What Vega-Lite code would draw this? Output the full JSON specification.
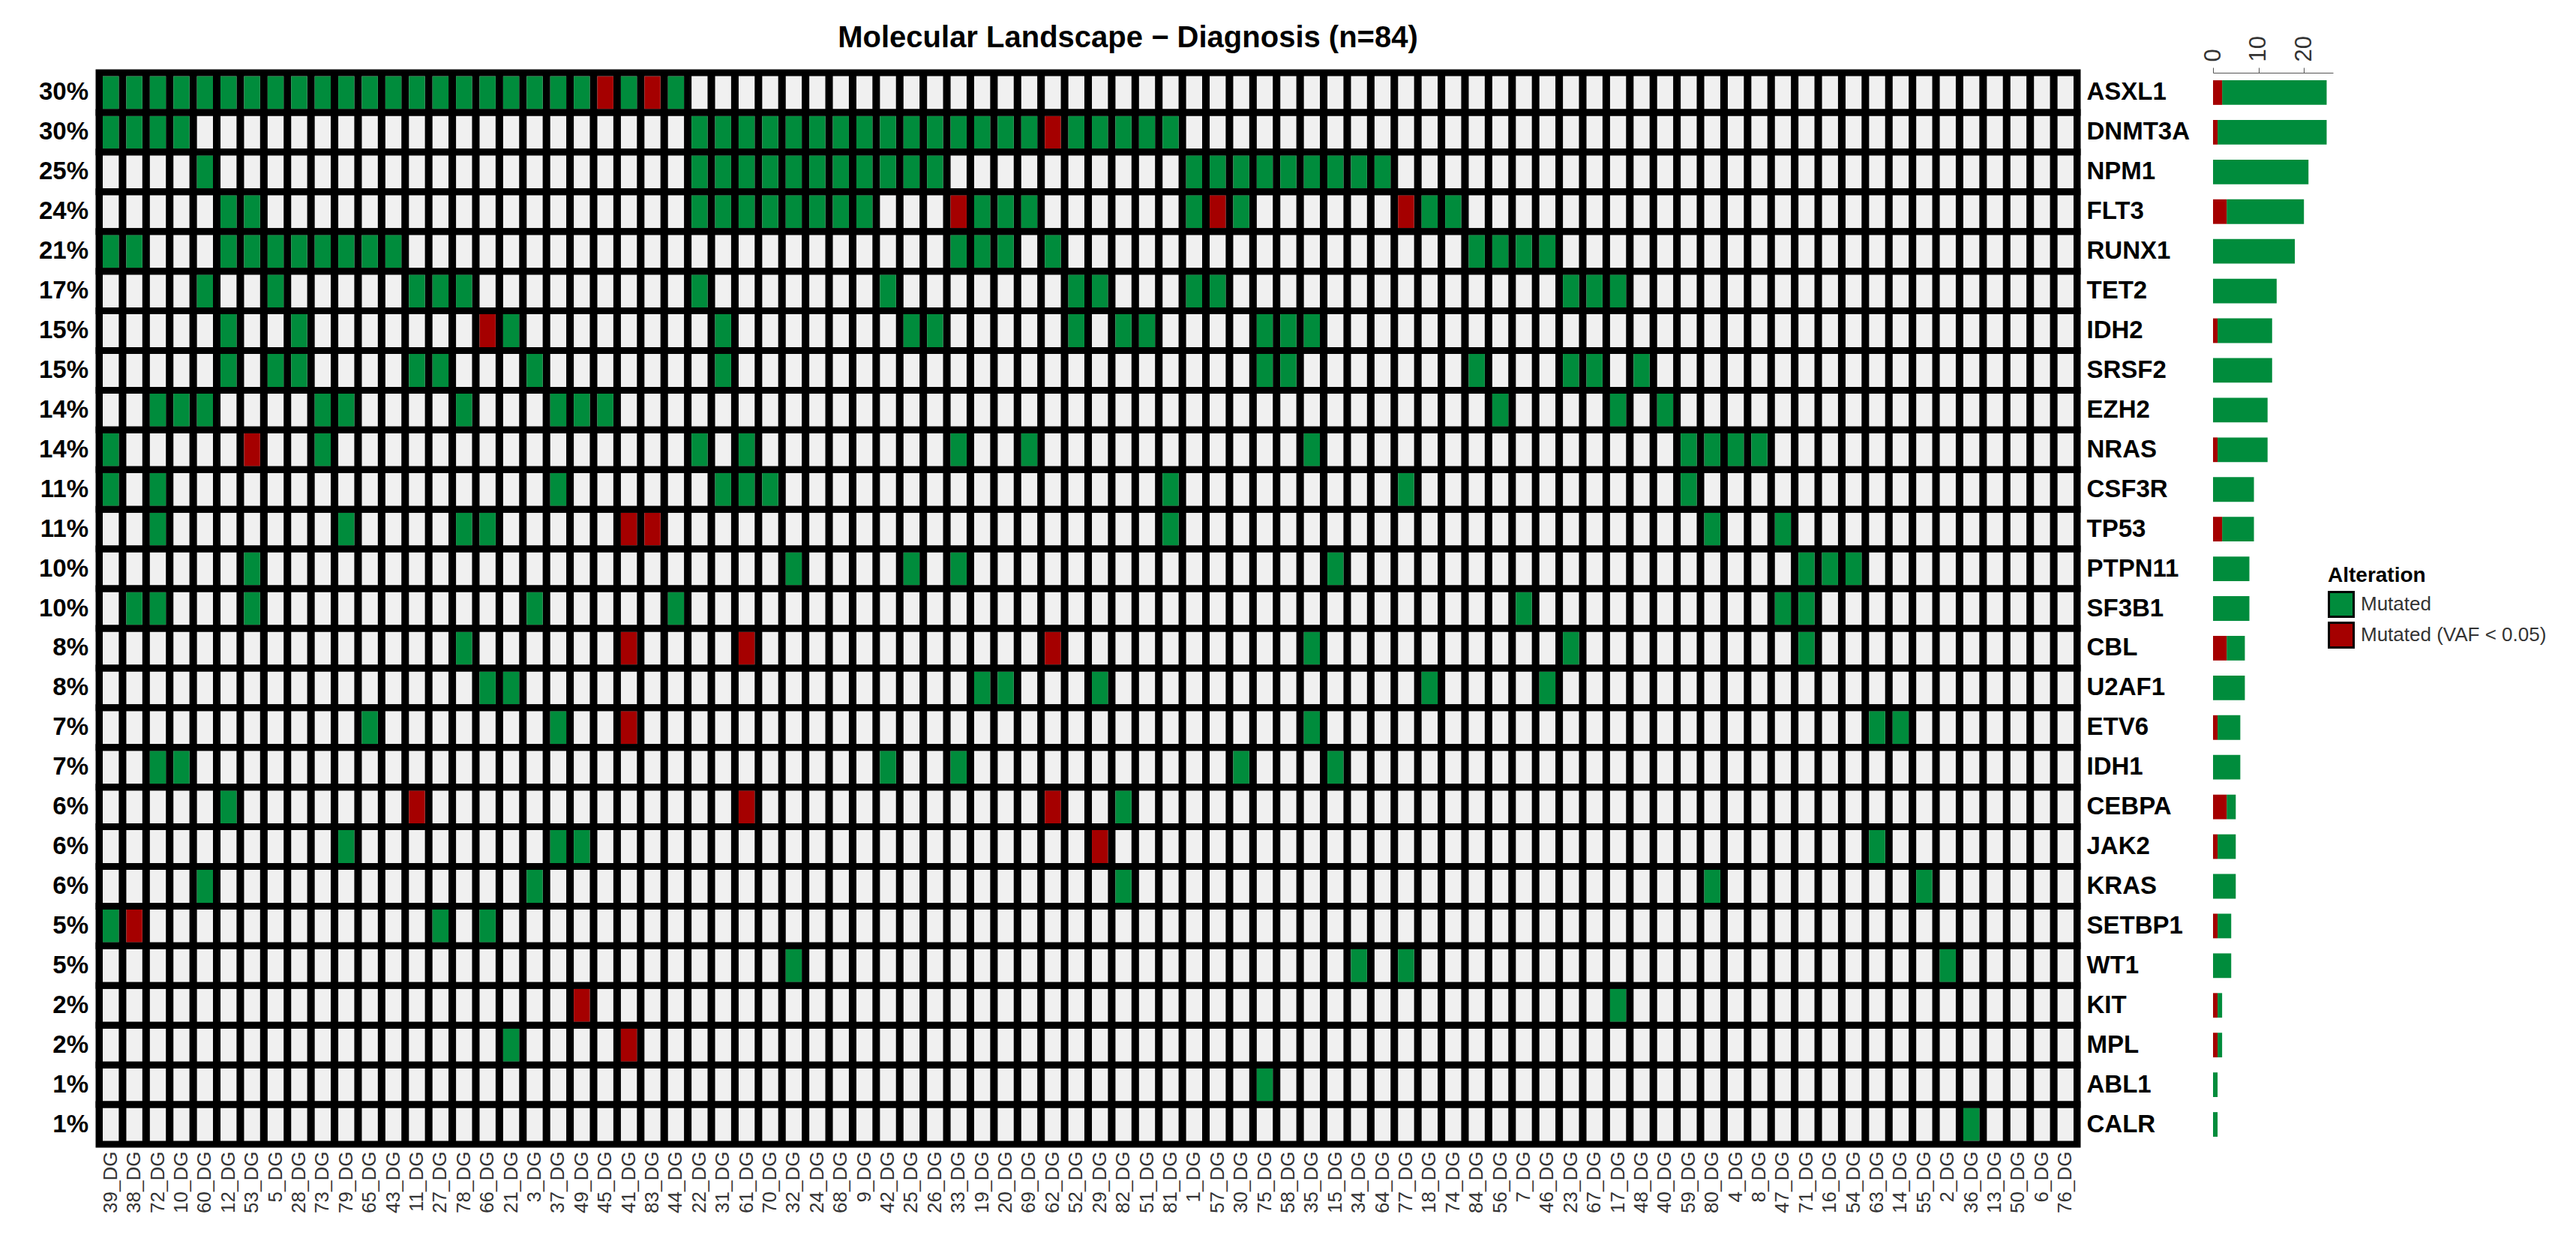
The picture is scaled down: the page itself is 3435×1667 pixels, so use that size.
{
  "$schema": "https://vega.github.io/schema/vega-lite/v6.json",
  "padding": {"left": 38, "top": 30, "right": 5, "bottom": 5},
  "background": "white",
  "config": {"font": "Liberation Sans", "view": {"stroke": null}},
  "spacing": 9,
  "datasets": {
    "samples": [
      {"sample":"39_DG"},{"sample":"38_DG"},{"sample":"72_DG"},{"sample":"10_DG"},{"sample":"60_DG"},{"sample":"12_DG"},{"sample":"53_DG"},{"sample":"5_DG"},{"sample":"28_DG"},{"sample":"73_DG"},{"sample":"79_DG"},{"sample":"65_DG"},{"sample":"43_DG"},{"sample":"11_DG"},{"sample":"27_DG"},{"sample":"78_DG"},{"sample":"66_DG"},{"sample":"21_DG"},{"sample":"3_DG"},{"sample":"37_DG"},{"sample":"49_DG"},{"sample":"45_DG"},{"sample":"41_DG"},{"sample":"83_DG"},{"sample":"44_DG"},{"sample":"22_DG"},{"sample":"31_DG"},{"sample":"61_DG"},{"sample":"70_DG"},{"sample":"32_DG"},{"sample":"24_DG"},{"sample":"68_DG"},{"sample":"9_DG"},{"sample":"42_DG"},{"sample":"25_DG"},{"sample":"26_DG"},{"sample":"33_DG"},{"sample":"19_DG"},{"sample":"20_DG"},{"sample":"69_DG"},{"sample":"62_DG"},{"sample":"52_DG"},{"sample":"29_DG"},{"sample":"82_DG"},{"sample":"51_DG"},{"sample":"81_DG"},{"sample":"1_DG"},{"sample":"57_DG"},{"sample":"30_DG"},{"sample":"75_DG"},{"sample":"58_DG"},{"sample":"35_DG"},{"sample":"15_DG"},{"sample":"34_DG"},{"sample":"64_DG"},{"sample":"77_DG"},{"sample":"18_DG"},{"sample":"74_DG"},{"sample":"84_DG"},{"sample":"56_DG"},{"sample":"7_DG"},{"sample":"46_DG"},{"sample":"23_DG"},{"sample":"67_DG"},{"sample":"17_DG"},{"sample":"48_DG"},{"sample":"40_DG"},{"sample":"59_DG"},{"sample":"80_DG"},{"sample":"4_DG"},{"sample":"8_DG"},{"sample":"47_DG"},{"sample":"71_DG"},{"sample":"16_DG"},{"sample":"54_DG"},{"sample":"63_DG"},{"sample":"14_DG"},{"sample":"55_DG"},{"sample":"2_DG"},{"sample":"36_DG"},{"sample":"13_DG"},{"sample":"50_DG"},{"sample":"6_DG"},{"sample":"76_DG"}
    ],
    "genes": [
      {"gene":"ASXL1","pct":"30%"},{"gene":"DNMT3A","pct":"30%"},{"gene":"NPM1","pct":"25%"},{"gene":"FLT3","pct":"24%"},{"gene":"RUNX1","pct":"21%"},{"gene":"TET2","pct":"17%"},{"gene":"IDH2","pct":"15%"},{"gene":"SRSF2","pct":"15%"},{"gene":"EZH2","pct":"14%"},{"gene":"NRAS","pct":"14%"},{"gene":"CSF3R","pct":"11%"},{"gene":"TP53","pct":"11%"},{"gene":"PTPN11","pct":"10%"},{"gene":"SF3B1","pct":"10%"},{"gene":"CBL","pct":"8%"},{"gene":"U2AF1","pct":"8%"},{"gene":"ETV6","pct":"7%"},{"gene":"IDH1","pct":"7%"},{"gene":"CEBPA","pct":"6%"},{"gene":"JAK2","pct":"6%"},{"gene":"KRAS","pct":"6%"},{"gene":"SETBP1","pct":"5%"},{"gene":"WT1","pct":"5%"},{"gene":"KIT","pct":"2%"},{"gene":"MPL","pct":"2%"},{"gene":"ABL1","pct":"1%"},{"gene":"CALR","pct":"1%"}
    ],
    "muts": [
      {"sample":"39_DG","gene":"ASXL1","alt":"Mutated"},{"sample":"38_DG","gene":"ASXL1","alt":"Mutated"},{"sample":"72_DG","gene":"ASXL1","alt":"Mutated"},{"sample":"10_DG","gene":"ASXL1","alt":"Mutated"},{"sample":"60_DG","gene":"ASXL1","alt":"Mutated"},{"sample":"12_DG","gene":"ASXL1","alt":"Mutated"},{"sample":"53_DG","gene":"ASXL1","alt":"Mutated"},{"sample":"5_DG","gene":"ASXL1","alt":"Mutated"},{"sample":"28_DG","gene":"ASXL1","alt":"Mutated"},{"sample":"73_DG","gene":"ASXL1","alt":"Mutated"},{"sample":"79_DG","gene":"ASXL1","alt":"Mutated"},{"sample":"65_DG","gene":"ASXL1","alt":"Mutated"},{"sample":"43_DG","gene":"ASXL1","alt":"Mutated"},{"sample":"11_DG","gene":"ASXL1","alt":"Mutated"},{"sample":"27_DG","gene":"ASXL1","alt":"Mutated"},{"sample":"78_DG","gene":"ASXL1","alt":"Mutated"},{"sample":"66_DG","gene":"ASXL1","alt":"Mutated"},{"sample":"21_DG","gene":"ASXL1","alt":"Mutated"},{"sample":"3_DG","gene":"ASXL1","alt":"Mutated"},{"sample":"37_DG","gene":"ASXL1","alt":"Mutated"},{"sample":"49_DG","gene":"ASXL1","alt":"Mutated"},{"sample":"45_DG","gene":"ASXL1","alt":"Mutated (VAF < 0.05)"},{"sample":"41_DG","gene":"ASXL1","alt":"Mutated"},{"sample":"83_DG","gene":"ASXL1","alt":"Mutated (VAF < 0.05)"},{"sample":"44_DG","gene":"ASXL1","alt":"Mutated"},
      {"sample":"39_DG","gene":"DNMT3A","alt":"Mutated"},{"sample":"38_DG","gene":"DNMT3A","alt":"Mutated"},{"sample":"72_DG","gene":"DNMT3A","alt":"Mutated"},{"sample":"10_DG","gene":"DNMT3A","alt":"Mutated"},{"sample":"22_DG","gene":"DNMT3A","alt":"Mutated"},{"sample":"31_DG","gene":"DNMT3A","alt":"Mutated"},{"sample":"61_DG","gene":"DNMT3A","alt":"Mutated"},{"sample":"70_DG","gene":"DNMT3A","alt":"Mutated"},{"sample":"32_DG","gene":"DNMT3A","alt":"Mutated"},{"sample":"24_DG","gene":"DNMT3A","alt":"Mutated"},{"sample":"68_DG","gene":"DNMT3A","alt":"Mutated"},{"sample":"9_DG","gene":"DNMT3A","alt":"Mutated"},{"sample":"42_DG","gene":"DNMT3A","alt":"Mutated"},{"sample":"25_DG","gene":"DNMT3A","alt":"Mutated"},{"sample":"26_DG","gene":"DNMT3A","alt":"Mutated"},{"sample":"33_DG","gene":"DNMT3A","alt":"Mutated"},{"sample":"19_DG","gene":"DNMT3A","alt":"Mutated"},{"sample":"20_DG","gene":"DNMT3A","alt":"Mutated"},{"sample":"69_DG","gene":"DNMT3A","alt":"Mutated"},{"sample":"62_DG","gene":"DNMT3A","alt":"Mutated (VAF < 0.05)"},{"sample":"52_DG","gene":"DNMT3A","alt":"Mutated"},{"sample":"29_DG","gene":"DNMT3A","alt":"Mutated"},{"sample":"82_DG","gene":"DNMT3A","alt":"Mutated"},{"sample":"51_DG","gene":"DNMT3A","alt":"Mutated"},{"sample":"81_DG","gene":"DNMT3A","alt":"Mutated"},
      {"sample":"60_DG","gene":"NPM1","alt":"Mutated"},{"sample":"22_DG","gene":"NPM1","alt":"Mutated"},{"sample":"31_DG","gene":"NPM1","alt":"Mutated"},{"sample":"61_DG","gene":"NPM1","alt":"Mutated"},{"sample":"70_DG","gene":"NPM1","alt":"Mutated"},{"sample":"32_DG","gene":"NPM1","alt":"Mutated"},{"sample":"24_DG","gene":"NPM1","alt":"Mutated"},{"sample":"68_DG","gene":"NPM1","alt":"Mutated"},{"sample":"9_DG","gene":"NPM1","alt":"Mutated"},{"sample":"42_DG","gene":"NPM1","alt":"Mutated"},{"sample":"25_DG","gene":"NPM1","alt":"Mutated"},{"sample":"26_DG","gene":"NPM1","alt":"Mutated"},{"sample":"1_DG","gene":"NPM1","alt":"Mutated"},{"sample":"57_DG","gene":"NPM1","alt":"Mutated"},{"sample":"30_DG","gene":"NPM1","alt":"Mutated"},{"sample":"75_DG","gene":"NPM1","alt":"Mutated"},{"sample":"58_DG","gene":"NPM1","alt":"Mutated"},{"sample":"35_DG","gene":"NPM1","alt":"Mutated"},{"sample":"15_DG","gene":"NPM1","alt":"Mutated"},{"sample":"34_DG","gene":"NPM1","alt":"Mutated"},{"sample":"64_DG","gene":"NPM1","alt":"Mutated"},
      {"sample":"12_DG","gene":"FLT3","alt":"Mutated"},{"sample":"53_DG","gene":"FLT3","alt":"Mutated"},{"sample":"22_DG","gene":"FLT3","alt":"Mutated"},{"sample":"31_DG","gene":"FLT3","alt":"Mutated"},{"sample":"61_DG","gene":"FLT3","alt":"Mutated"},{"sample":"70_DG","gene":"FLT3","alt":"Mutated"},{"sample":"32_DG","gene":"FLT3","alt":"Mutated"},{"sample":"24_DG","gene":"FLT3","alt":"Mutated"},{"sample":"68_DG","gene":"FLT3","alt":"Mutated"},{"sample":"9_DG","gene":"FLT3","alt":"Mutated"},{"sample":"33_DG","gene":"FLT3","alt":"Mutated (VAF < 0.05)"},{"sample":"19_DG","gene":"FLT3","alt":"Mutated"},{"sample":"20_DG","gene":"FLT3","alt":"Mutated"},{"sample":"69_DG","gene":"FLT3","alt":"Mutated"},{"sample":"1_DG","gene":"FLT3","alt":"Mutated"},{"sample":"57_DG","gene":"FLT3","alt":"Mutated (VAF < 0.05)"},{"sample":"30_DG","gene":"FLT3","alt":"Mutated"},{"sample":"77_DG","gene":"FLT3","alt":"Mutated (VAF < 0.05)"},{"sample":"18_DG","gene":"FLT3","alt":"Mutated"},{"sample":"74_DG","gene":"FLT3","alt":"Mutated"},
      {"sample":"39_DG","gene":"RUNX1","alt":"Mutated"},{"sample":"38_DG","gene":"RUNX1","alt":"Mutated"},{"sample":"12_DG","gene":"RUNX1","alt":"Mutated"},{"sample":"53_DG","gene":"RUNX1","alt":"Mutated"},{"sample":"5_DG","gene":"RUNX1","alt":"Mutated"},{"sample":"28_DG","gene":"RUNX1","alt":"Mutated"},{"sample":"73_DG","gene":"RUNX1","alt":"Mutated"},{"sample":"79_DG","gene":"RUNX1","alt":"Mutated"},{"sample":"65_DG","gene":"RUNX1","alt":"Mutated"},{"sample":"43_DG","gene":"RUNX1","alt":"Mutated"},{"sample":"33_DG","gene":"RUNX1","alt":"Mutated"},{"sample":"19_DG","gene":"RUNX1","alt":"Mutated"},{"sample":"20_DG","gene":"RUNX1","alt":"Mutated"},{"sample":"62_DG","gene":"RUNX1","alt":"Mutated"},{"sample":"84_DG","gene":"RUNX1","alt":"Mutated"},{"sample":"56_DG","gene":"RUNX1","alt":"Mutated"},{"sample":"7_DG","gene":"RUNX1","alt":"Mutated"},{"sample":"46_DG","gene":"RUNX1","alt":"Mutated"},
      {"sample":"60_DG","gene":"TET2","alt":"Mutated"},{"sample":"5_DG","gene":"TET2","alt":"Mutated"},{"sample":"11_DG","gene":"TET2","alt":"Mutated"},{"sample":"27_DG","gene":"TET2","alt":"Mutated"},{"sample":"78_DG","gene":"TET2","alt":"Mutated"},{"sample":"22_DG","gene":"TET2","alt":"Mutated"},{"sample":"42_DG","gene":"TET2","alt":"Mutated"},{"sample":"52_DG","gene":"TET2","alt":"Mutated"},{"sample":"29_DG","gene":"TET2","alt":"Mutated"},{"sample":"1_DG","gene":"TET2","alt":"Mutated"},{"sample":"57_DG","gene":"TET2","alt":"Mutated"},{"sample":"23_DG","gene":"TET2","alt":"Mutated"},{"sample":"67_DG","gene":"TET2","alt":"Mutated"},{"sample":"17_DG","gene":"TET2","alt":"Mutated"},
      {"sample":"12_DG","gene":"IDH2","alt":"Mutated"},{"sample":"28_DG","gene":"IDH2","alt":"Mutated"},{"sample":"66_DG","gene":"IDH2","alt":"Mutated (VAF < 0.05)"},{"sample":"21_DG","gene":"IDH2","alt":"Mutated"},{"sample":"31_DG","gene":"IDH2","alt":"Mutated"},{"sample":"25_DG","gene":"IDH2","alt":"Mutated"},{"sample":"26_DG","gene":"IDH2","alt":"Mutated"},{"sample":"52_DG","gene":"IDH2","alt":"Mutated"},{"sample":"82_DG","gene":"IDH2","alt":"Mutated"},{"sample":"51_DG","gene":"IDH2","alt":"Mutated"},{"sample":"75_DG","gene":"IDH2","alt":"Mutated"},{"sample":"58_DG","gene":"IDH2","alt":"Mutated"},{"sample":"35_DG","gene":"IDH2","alt":"Mutated"},
      {"sample":"12_DG","gene":"SRSF2","alt":"Mutated"},{"sample":"5_DG","gene":"SRSF2","alt":"Mutated"},{"sample":"28_DG","gene":"SRSF2","alt":"Mutated"},{"sample":"11_DG","gene":"SRSF2","alt":"Mutated"},{"sample":"27_DG","gene":"SRSF2","alt":"Mutated"},{"sample":"3_DG","gene":"SRSF2","alt":"Mutated"},{"sample":"31_DG","gene":"SRSF2","alt":"Mutated"},{"sample":"75_DG","gene":"SRSF2","alt":"Mutated"},{"sample":"58_DG","gene":"SRSF2","alt":"Mutated"},{"sample":"84_DG","gene":"SRSF2","alt":"Mutated"},{"sample":"23_DG","gene":"SRSF2","alt":"Mutated"},{"sample":"67_DG","gene":"SRSF2","alt":"Mutated"},{"sample":"48_DG","gene":"SRSF2","alt":"Mutated"},
      {"sample":"72_DG","gene":"EZH2","alt":"Mutated"},{"sample":"10_DG","gene":"EZH2","alt":"Mutated"},{"sample":"60_DG","gene":"EZH2","alt":"Mutated"},{"sample":"73_DG","gene":"EZH2","alt":"Mutated"},{"sample":"79_DG","gene":"EZH2","alt":"Mutated"},{"sample":"78_DG","gene":"EZH2","alt":"Mutated"},{"sample":"37_DG","gene":"EZH2","alt":"Mutated"},{"sample":"49_DG","gene":"EZH2","alt":"Mutated"},{"sample":"45_DG","gene":"EZH2","alt":"Mutated"},{"sample":"56_DG","gene":"EZH2","alt":"Mutated"},{"sample":"17_DG","gene":"EZH2","alt":"Mutated"},{"sample":"40_DG","gene":"EZH2","alt":"Mutated"},
      {"sample":"39_DG","gene":"NRAS","alt":"Mutated"},{"sample":"53_DG","gene":"NRAS","alt":"Mutated (VAF < 0.05)"},{"sample":"73_DG","gene":"NRAS","alt":"Mutated"},{"sample":"22_DG","gene":"NRAS","alt":"Mutated"},{"sample":"61_DG","gene":"NRAS","alt":"Mutated"},{"sample":"33_DG","gene":"NRAS","alt":"Mutated"},{"sample":"69_DG","gene":"NRAS","alt":"Mutated"},{"sample":"35_DG","gene":"NRAS","alt":"Mutated"},{"sample":"59_DG","gene":"NRAS","alt":"Mutated"},{"sample":"80_DG","gene":"NRAS","alt":"Mutated"},{"sample":"4_DG","gene":"NRAS","alt":"Mutated"},{"sample":"8_DG","gene":"NRAS","alt":"Mutated"},
      {"sample":"39_DG","gene":"CSF3R","alt":"Mutated"},{"sample":"72_DG","gene":"CSF3R","alt":"Mutated"},{"sample":"37_DG","gene":"CSF3R","alt":"Mutated"},{"sample":"31_DG","gene":"CSF3R","alt":"Mutated"},{"sample":"61_DG","gene":"CSF3R","alt":"Mutated"},{"sample":"70_DG","gene":"CSF3R","alt":"Mutated"},{"sample":"81_DG","gene":"CSF3R","alt":"Mutated"},{"sample":"77_DG","gene":"CSF3R","alt":"Mutated"},{"sample":"59_DG","gene":"CSF3R","alt":"Mutated"},
      {"sample":"72_DG","gene":"TP53","alt":"Mutated"},{"sample":"79_DG","gene":"TP53","alt":"Mutated"},{"sample":"78_DG","gene":"TP53","alt":"Mutated"},{"sample":"66_DG","gene":"TP53","alt":"Mutated"},{"sample":"41_DG","gene":"TP53","alt":"Mutated (VAF < 0.05)"},{"sample":"83_DG","gene":"TP53","alt":"Mutated (VAF < 0.05)"},{"sample":"81_DG","gene":"TP53","alt":"Mutated"},{"sample":"80_DG","gene":"TP53","alt":"Mutated"},{"sample":"47_DG","gene":"TP53","alt":"Mutated"},
      {"sample":"53_DG","gene":"PTPN11","alt":"Mutated"},{"sample":"32_DG","gene":"PTPN11","alt":"Mutated"},{"sample":"25_DG","gene":"PTPN11","alt":"Mutated"},{"sample":"33_DG","gene":"PTPN11","alt":"Mutated"},{"sample":"15_DG","gene":"PTPN11","alt":"Mutated"},{"sample":"71_DG","gene":"PTPN11","alt":"Mutated"},{"sample":"16_DG","gene":"PTPN11","alt":"Mutated"},{"sample":"54_DG","gene":"PTPN11","alt":"Mutated"},
      {"sample":"38_DG","gene":"SF3B1","alt":"Mutated"},{"sample":"72_DG","gene":"SF3B1","alt":"Mutated"},{"sample":"53_DG","gene":"SF3B1","alt":"Mutated"},{"sample":"3_DG","gene":"SF3B1","alt":"Mutated"},{"sample":"44_DG","gene":"SF3B1","alt":"Mutated"},{"sample":"7_DG","gene":"SF3B1","alt":"Mutated"},{"sample":"47_DG","gene":"SF3B1","alt":"Mutated"},{"sample":"71_DG","gene":"SF3B1","alt":"Mutated"},
      {"sample":"78_DG","gene":"CBL","alt":"Mutated"},{"sample":"41_DG","gene":"CBL","alt":"Mutated (VAF < 0.05)"},{"sample":"61_DG","gene":"CBL","alt":"Mutated (VAF < 0.05)"},{"sample":"62_DG","gene":"CBL","alt":"Mutated (VAF < 0.05)"},{"sample":"35_DG","gene":"CBL","alt":"Mutated"},{"sample":"23_DG","gene":"CBL","alt":"Mutated"},{"sample":"71_DG","gene":"CBL","alt":"Mutated"},
      {"sample":"66_DG","gene":"U2AF1","alt":"Mutated"},{"sample":"21_DG","gene":"U2AF1","alt":"Mutated"},{"sample":"19_DG","gene":"U2AF1","alt":"Mutated"},{"sample":"20_DG","gene":"U2AF1","alt":"Mutated"},{"sample":"29_DG","gene":"U2AF1","alt":"Mutated"},{"sample":"18_DG","gene":"U2AF1","alt":"Mutated"},{"sample":"46_DG","gene":"U2AF1","alt":"Mutated"},
      {"sample":"65_DG","gene":"ETV6","alt":"Mutated"},{"sample":"37_DG","gene":"ETV6","alt":"Mutated"},{"sample":"41_DG","gene":"ETV6","alt":"Mutated (VAF < 0.05)"},{"sample":"35_DG","gene":"ETV6","alt":"Mutated"},{"sample":"63_DG","gene":"ETV6","alt":"Mutated"},{"sample":"14_DG","gene":"ETV6","alt":"Mutated"},
      {"sample":"72_DG","gene":"IDH1","alt":"Mutated"},{"sample":"10_DG","gene":"IDH1","alt":"Mutated"},{"sample":"42_DG","gene":"IDH1","alt":"Mutated"},{"sample":"33_DG","gene":"IDH1","alt":"Mutated"},{"sample":"30_DG","gene":"IDH1","alt":"Mutated"},{"sample":"15_DG","gene":"IDH1","alt":"Mutated"},
      {"sample":"12_DG","gene":"CEBPA","alt":"Mutated"},{"sample":"11_DG","gene":"CEBPA","alt":"Mutated (VAF < 0.05)"},{"sample":"61_DG","gene":"CEBPA","alt":"Mutated (VAF < 0.05)"},{"sample":"62_DG","gene":"CEBPA","alt":"Mutated (VAF < 0.05)"},{"sample":"82_DG","gene":"CEBPA","alt":"Mutated"},
      {"sample":"79_DG","gene":"JAK2","alt":"Mutated"},{"sample":"37_DG","gene":"JAK2","alt":"Mutated"},{"sample":"49_DG","gene":"JAK2","alt":"Mutated"},{"sample":"29_DG","gene":"JAK2","alt":"Mutated (VAF < 0.05)"},{"sample":"63_DG","gene":"JAK2","alt":"Mutated"},
      {"sample":"60_DG","gene":"KRAS","alt":"Mutated"},{"sample":"3_DG","gene":"KRAS","alt":"Mutated"},{"sample":"82_DG","gene":"KRAS","alt":"Mutated"},{"sample":"80_DG","gene":"KRAS","alt":"Mutated"},{"sample":"55_DG","gene":"KRAS","alt":"Mutated"},
      {"sample":"39_DG","gene":"SETBP1","alt":"Mutated"},{"sample":"38_DG","gene":"SETBP1","alt":"Mutated (VAF < 0.05)"},{"sample":"27_DG","gene":"SETBP1","alt":"Mutated"},{"sample":"66_DG","gene":"SETBP1","alt":"Mutated"},
      {"sample":"32_DG","gene":"WT1","alt":"Mutated"},{"sample":"34_DG","gene":"WT1","alt":"Mutated"},{"sample":"77_DG","gene":"WT1","alt":"Mutated"},{"sample":"2_DG","gene":"WT1","alt":"Mutated"},
      {"sample":"49_DG","gene":"KIT","alt":"Mutated (VAF < 0.05)"},{"sample":"17_DG","gene":"KIT","alt":"Mutated"},
      {"sample":"21_DG","gene":"MPL","alt":"Mutated"},{"sample":"41_DG","gene":"MPL","alt":"Mutated (VAF < 0.05)"},
      {"sample":"75_DG","gene":"ABL1","alt":"Mutated"},
      {"sample":"36_DG","gene":"CALR","alt":"Mutated"}
    ]
  },
  "hconcat": [
    {
      "width": 80,
      "height": 1429,
      "data": {"name": "genes"},
      "mark": {"type": "text", "x": "width", "align": "right", "baseline": "middle", "fontSize": 33, "fontWeight": "bold", "color": "black"},
      "encoding": {
        "y": {"field": "gene", "type": "nominal", "scale": {"domain": ["ASXL1","DNMT3A","NPM1","FLT3","RUNX1","TET2","IDH2","SRSF2","EZH2","NRAS","CSF3R","TP53","PTPN11","SF3B1","CBL","U2AF1","ETV6","IDH1","CEBPA","JAK2","KRAS","SETBP1","WT1","KIT","MPL","ABL1","CALR"], "paddingInner": 0.17, "paddingOuter": 0.085}, "axis": null},
        "text": {"field": "pct", "type": "nominal"}
      }
    },
    {
      "width": 2638,
      "height": 1429,
      "view": {"fill": "black", "stroke": null},
      "title": {"text": "Molecular Landscape − Diagnosis (n=84)", "fontSize": 40, "fontWeight": "bold", "color": "black", "anchor": "middle", "dx": 53, "offset": 22},
      "layer": [
        {
          "data": {"name": "samples"},
          "mark": {"type": "rect", "fill": "#F0F0F0"},
          "encoding": {
            "x": {"field": "sample", "type": "nominal", "scale": {"domain": ["39_DG","38_DG","72_DG","10_DG","60_DG","12_DG","53_DG","5_DG","28_DG","73_DG","79_DG","65_DG","43_DG","11_DG","27_DG","78_DG","66_DG","21_DG","3_DG","37_DG","49_DG","45_DG","41_DG","83_DG","44_DG","22_DG","31_DG","61_DG","70_DG","32_DG","24_DG","68_DG","9_DG","42_DG","25_DG","26_DG","33_DG","19_DG","20_DG","69_DG","62_DG","52_DG","29_DG","82_DG","51_DG","81_DG","1_DG","57_DG","30_DG","75_DG","58_DG","35_DG","15_DG","34_DG","64_DG","77_DG","18_DG","74_DG","84_DG","56_DG","7_DG","46_DG","23_DG","67_DG","17_DG","48_DG","40_DG","59_DG","80_DG","4_DG","8_DG","47_DG","71_DG","16_DG","54_DG","63_DG","14_DG","55_DG","2_DG","36_DG","13_DG","50_DG","6_DG","76_DG"], "paddingInner": 0.32, "paddingOuter": 0.16},
              "axis": {"orient": "bottom", "title": null, "labelAngle": 270, "labelAlign": "right", "labelBaseline": "middle", "labelFontSize": 26, "labelColor": "#333333", "ticks": false, "domain": false, "labelPadding": 9}}
          }
        },
        {
          "data": {"name": "muts"},
          "mark": {"type": "rect"},
          "encoding": {
            "x": {"field": "sample", "type": "nominal"},
            "y": {"field": "gene", "type": "nominal", "scale": {"domain": ["ASXL1","DNMT3A","NPM1","FLT3","RUNX1","TET2","IDH2","SRSF2","EZH2","NRAS","CSF3R","TP53","PTPN11","SF3B1","CBL","U2AF1","ETV6","IDH1","CEBPA","JAK2","KRAS","SETBP1","WT1","KIT","MPL","ABL1","CALR"], "paddingInner": 0.17, "paddingOuter": 0.085},
              "axis": {"orient": "right", "title": null, "labelFontSize": 33, "labelFontWeight": "bold", "labelColor": "black", "ticks": false, "domain": false, "labelPadding": 12, "minExtent": 155}},
            "color": {"field": "alt", "type": "nominal", "scale": {"domain": ["Mutated", "Mutated (VAF < 0.05)"], "range": ["#008C3C", "#A50000"]},
              "legend": {"title": "Alteration", "orient": "none", "legendX": 3066, "legendY": 657, "titleFontSize": 28, "titleFontWeight": "bold", "titleColor": "black", "labelFontSize": 26, "labelColor": "#333333", "labelLimit": 600, "symbolType": "square", "symbolSize": 1089, "symbolStrokeColor": "black", "symbolStrokeWidth": 3, "symbolOpacity": 1, "rowPadding": -16, "titlePadding": 6, "labelOffset": 8}}
          }
        },
        {
          "data": {"name": "genes"},
          "mark": {"type": "rect", "fillOpacity": 0, "stroke": "black", "strokeWidth": 9},
          "encoding": {
            "y": {"field": "gene", "type": "nominal", "scale": {"domain": ["ASXL1","DNMT3A","NPM1","FLT3","RUNX1","TET2","IDH2","SRSF2","EZH2","NRAS","CSF3R","TP53","PTPN11","SF3B1","CBL","U2AF1","ETV6","IDH1","CEBPA","JAK2","KRAS","SETBP1","WT1","KIT","MPL","ABL1","CALR"], "paddingInner": 0, "paddingOuter": 0}, "axis": null}
          }
        }
      ],
      "resolve": {"scale": {"y": "independent"}, "axis": {"y": "independent"}}
    },
    {
      "width": 160,
      "height": 1429,
      "data": {"name": "muts"},
      "mark": {"type": "bar"},
      "encoding": {
        "y": {"field": "gene", "type": "nominal", "scale": {"domain": ["ASXL1","DNMT3A","NPM1","FLT3","RUNX1","TET2","IDH2","SRSF2","EZH2","NRAS","CSF3R","TP53","PTPN11","SF3B1","CBL","U2AF1","ETV6","IDH1","CEBPA","JAK2","KRAS","SETBP1","WT1","KIT","MPL","ABL1","CALR"], "paddingInner": 0.38, "paddingOuter": 0.19}, "axis": null},
        "x": {"aggregate": "count", "type": "quantitative", "scale": {"domain": [0, 26.4], "nice": false},
          "axis": {"orient": "top", "title": null, "values": [0, 10, 20], "grid": false, "labelAngle": 270, "labelAlign": "left", "labelBaseline": "middle", "labelFontSize": 31, "labelColor": "#333333", "tickSize": 7, "tickColor": "#555555", "domainColor": "#555555", "labelPadding": 8}},
        "color": {"field": "alt", "type": "nominal", "legend": null},
        "order": {"field": "alt", "sort": "descending"}
      }
    }
  ]
}
